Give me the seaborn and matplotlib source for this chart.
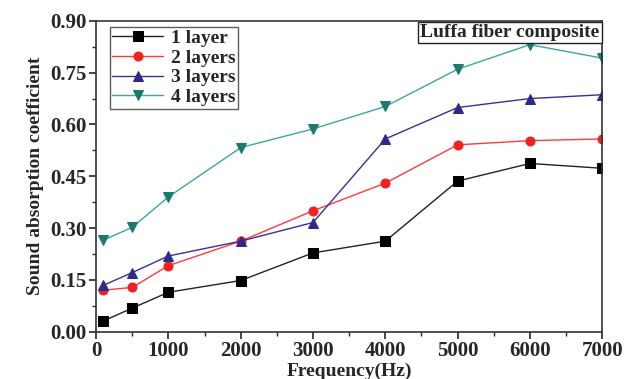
import matplotlib
matplotlib.use("Agg")
import matplotlib.pyplot as plt
import seaborn as sns
import pandas as pd
from matplotlib.ticker import MultipleLocator

freq = [100, 500, 1000, 2000, 3000, 4000, 5000, 6000, 7000]
layer1 = [0.031, 0.068, 0.114, 0.148, 0.228, 0.262, 0.436, 0.487, 0.473]
layer2 = [0.120, 0.128, 0.191, 0.262, 0.350, 0.430, 0.541, 0.553, 0.558]
layer3 = [0.134, 0.171, 0.219, 0.262, 0.316, 0.558, 0.649, 0.675, 0.686]
layer4 = [0.265, 0.302, 0.390, 0.533, 0.587, 0.652, 0.760, 0.831, 0.792]
labels = ["1 layer", "2 layers", "3 layers", "4 layers"]

sns.set_theme(style="ticks")
plt.rcParams["font.family"] = ["Liberation Serif", "DejaVu Serif"]
plt.rcParams["font.weight"] = "bold"

rows = []
for lab, vals in zip(labels, [layer1, layer2, layer3, layer4]):
    for f, v in zip(freq, vals):
        rows.append({"Frequency": f, "Value": v, "Series": lab})
df = pd.DataFrame(rows)

colors = {"1 layer": "#222222", "2 layers": "#ff3b3b", "3 layers": "#3a2f98", "4 layers": "#3aa89c"}
mcolors = {"1 layer": "#000000", "2 layers": "#ee2222", "3 layers": "#2e2a8a", "4 layers": "#1a7a70"}
markers = {"1 layer": "s", "2 layers": "o", "3 layers": "^", "4 layers": "v"}

fig, ax = plt.subplots(figsize=(6.28, 3.79), dpi=100)
fig.subplots_adjust(left=0.153, right=0.959, top=0.945, bottom=0.125)

for lab in labels:
    sub = df[df["Series"] == lab]
    sns.lineplot(data=sub, x="Frequency", y="Value", ax=ax, color=colors[lab],
                 marker=markers[lab], markersize=6.5, markerfacecolor=mcolors[lab],
                 markeredgecolor=mcolors[lab], linewidth=1.0, label=lab)

ax.set_xlim(0, 7000)
ax.set_ylim(0, 0.9)
ax.xaxis.set_major_locator(MultipleLocator(1000))
ax.xaxis.set_minor_locator(MultipleLocator(500))
ax.yaxis.set_major_locator(MultipleLocator(0.15))
ax.yaxis.set_minor_locator(MultipleLocator(0.075))
ax.yaxis.set_major_formatter(matplotlib.ticker.FormatStrFormatter("%.2f"))
ax.tick_params(axis="both", which="major", labelsize=15, length=5, width=1.2, direction="out", pad=2)
ax.tick_params(axis="both", which="minor", length=3, width=1.0, direction="out")
for lbl in ax.get_xticklabels() + ax.get_yticklabels():
    lbl.set_fontweight("bold")
for sp in ax.spines.values():
    sp.set_linewidth(1.2)
    sp.set_color("#333333")
    sp.set_visible(True)

ax.set_xlabel("Frequency(Hz)", fontsize=14, fontweight="bold", labelpad=1)
ax.set_ylabel("Sound absorption coefficient", fontsize=14, fontweight="bold", labelpad=4)

leg = ax.legend(loc="upper left", bbox_to_anchor=(0.015, 1.0), fontsize=14, frameon=True,
                fancybox=False, edgecolor="#333333", handlelength=2.6, borderpad=0.15,
                labelspacing=0.1, handletextpad=0.4, borderaxespad=0.3)
leg.get_frame().set_linewidth(1.0)
for t in leg.get_texts():
    t.set_fontweight("bold")

ax.text(0.995, 0.99, "Luffa fiber composite", transform=ax.transAxes, ha="right", va="top",
        fontsize=14, fontweight="bold",
        bbox=dict(boxstyle="square,pad=0.12", facecolor="white", edgecolor="#222222", linewidth=1.0))

fig.savefig("out.png", dpi=100)
